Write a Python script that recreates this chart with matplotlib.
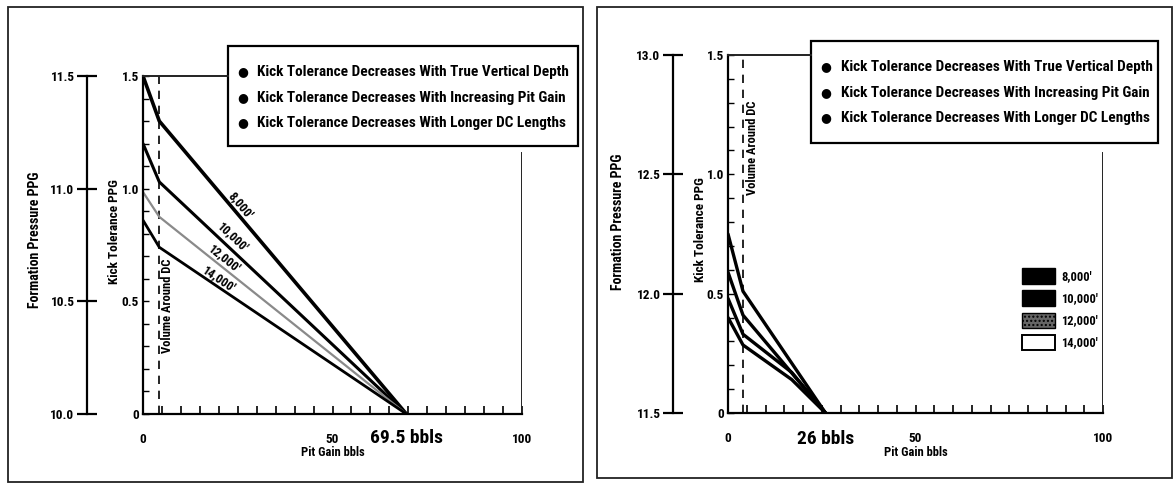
import numpy as np
import matplotlib
matplotlib.use("Agg")
import matplotlib.pyplot as plt
from matplotlib.patches import Rectangle, Patch
from matplotlib.lines import Line2D
from matplotlib.transforms import blended_transform_factory

plt.rcParams['font.family'] = ['Roboto Condensed', 'DejaVu Sans']
plt.rcParams['font.weight'] = 'bold'

# ---------------- data ----------------
depth_labels = ["8,000'", "10,000'", "12,000'", "14,000'"]
notes = ["Kick Tolerance Decreases With True Vertical Depth",
         "Kick Tolerance Decreases With Increasing Pit Gain",
         "Kick Tolerance Decreases With Longer DC Lengths"]

# left chart (max pit gain 69.5 bbls)
left_gain = [0, 4.3, 69.5]
left_kt = [[1.50, 1.30, 0.0],      # 8,000'
           [1.20, 1.03, 0.0],      # 10,000'
           [0.985, 0.875, 0.0],    # 12,000'
           [0.86, 0.74, 0.0]]      # 14,000'
left_dc = 4.3
left_max = 69.5
left_fp_ticks = [10.0, 10.5, 11.0, 11.5]

# right chart (max pit gain 26 bbls)
right_gain = [[0, 4, 26], [0, 4, 26], [0, 4, 17, 26], [0, 4, 17, 26]]
right_kt = [[0.75, 0.51, 0.0],
            [0.59, 0.41, 0.0],
            [0.48, 0.33, 0.17, 0.0],
            [0.40, 0.285, 0.14, 0.0]]
right_dc = 4.0
right_max = 26
right_fp_ticks = [11.5, 12.0, 12.5, 13.0]

kt_ticks = [0, 0.5, 1.0, 1.5]
kt_ticklabels = ["0", "0.5", "1.0", "1.5"]
gain_ticks = [0, 50, 100]

W, H = 1175, 484
fig = plt.figure(figsize=(W / 100, H / 100), dpi=100)


def fx(px):          # pixel -> figure fraction
    return px / W


def fy(py):
    return 1 - py / H


def panel(frame, ax_px, fp_x, fp_ticks, box, box_rows, bullet_x, text_x,
          right_top, gains, kts, styles, dc, gmax, vol_pos, fp_lab, kt_lab, xlab_y):
    # scanned page border
    fig.add_artist(Rectangle((fx(frame[0]), fy(frame[3])), (frame[2] - frame[0]) / W,
                             (frame[3] - frame[1]) / H, transform=fig.transFigure,
                             fill=False, lw=1.3, ec='#222'))
    x0, y0, x1, y1 = ax_px
    ax = fig.add_axes([fx(x0), fy(y1), (x1 - x0) / W, (y1 - y0) / H])
    ax.set_xlim(0, 100)
    ax.set_ylim(0, 1.5)
    ax.patch.set_visible(False)
    for s in ['top', 'right']:
        ax.spines[s].set_visible(False)
    for s in ['left', 'bottom']:
        ax.spines[s].set_linewidth(1.6)
    ax.set_xticks(gain_ticks)
    ax.set_xticks(np.arange(0, 101, 5), minor=True)
    ax.set_yticks(kt_ticks)
    ax.set_yticklabels(kt_ticklabels)
    ax.set_yticks(np.arange(0, 1.51, 0.1), minor=True)
    ax.tick_params(axis='x', which='both', direction='in', length=6, width=1.2,
                   labelsize=9.5, pad=14)
    ax.tick_params(axis='y', which='both', direction='in', length=4, width=1.0,
                   labelsize=9.5, pad=3)
    fig.text(fx((x0 + x1) / 2), fy(xlab_y), "Pit Gain bbls", fontsize=9,
             ha='center', va='center')
    fig.text(fx(kt_lab[0]), fy(kt_lab[1]), "Kick Tolerance PPG", fontsize=9.5,
             rotation=90, ha='center', va='center')
    fig.text(fx(fp_lab[0]), fy(fp_lab[1]), "Formation Pressure PPG", fontsize=10,
             rotation=90, ha='center', va='center')

    # frame right side below the note box
    ax.axvline(100, ymin=0, ymax=right_top, color='#222', lw=1.4)
    # dashed line: volume around drill collars
    ax.plot([dc, dc], [0, 1.5], color='black', lw=1.2, ls=(0, (5, 4)))
    ax.text(vol_pos[0], vol_pos[1], "Volume Around DC", rotation=90, fontsize=9,
            ha='center', va='center')

    for g, k, st in zip(gains, kts, styles):
        ax.plot(g, k, solid_capstyle='round', **st)

    trans = blended_transform_factory(ax.transData, ax.transAxes)
    ax.text(gmax, -0.072, f"{gmax:g} bbls", transform=trans, fontsize=14,
            ha='center', va='center')

    # formation pressure scale
    fax = fig.add_axes([fx(fp_x), fy(y1), 0.001, (y1 - y0) / H])
    fax.patch.set_visible(False)
    for s in ['top', 'right', 'bottom']:
        fax.spines[s].set_visible(False)
    fax.spines['left'].set_linewidth(1.6)
    fax.set_ylim(fp_ticks[0], fp_ticks[-1])
    fax.set_yticks(fp_ticks)
    fax.set_yticklabels([f"{t:.1f}" for t in fp_ticks])
    fax.set_xticks([])
    fax.tick_params(axis='y', direction='inout', length=14, width=1.6,
                    labelsize=9.5, pad=2)

    # note box with connecting line at the 1.5 level
    bx0, by0, bx1, by1 = box
    fig.add_artist(Line2D([fx(x0), fx(bx0)], [fy(y0), fy(y0)], color='#222', lw=1.4))
    fig.add_artist(Rectangle((fx(bx0), fy(by1)), (bx1 - bx0) / W, (by1 - by0) / H,
                             transform=fig.transFigure, fill=False, lw=1.6, ec='black'))
    for row, note in zip(box_rows, notes):
        fig.text(fx(bullet_x), fy(row), "\u25cf", fontsize=9, ha='center', va='center',
                 family='DejaVu Sans')
        fig.text(fx(text_x), fy(row), note, fontsize=11, ha='left', va='center')
    return ax


left_styles = [dict(color='black', lw=2.6), dict(color='black', lw=2.2),
               dict(color='#8a8a8a', lw=1.6), dict(color='black', lw=2.0)]
axL = panel(frame=(8, 7, 583, 482), ax_px=(143, 76, 522, 414), fp_x=87,
            fp_ticks=left_fp_ticks, box=(228, 46, 578, 146), box_rows=(72, 98, 123),
            bullet_x=243, text_x=257, right_top=(414 - 153) / 338,
            gains=[left_gain] * 4, kts=left_kt, styles=left_styles,
            dc=left_dc, gmax=left_max, vol_pos=(6.4, 0.48),
            fp_lab=(35, 240), kt_lab=(115, 232), xlab_y=453)

# depth labels along the left chart's lines
label_pos = [(25.8, 0.925), (23.6, 0.785), (21.2, 0.69), (19.9, 0.60)]
for (lx, ly), kt, name in zip(label_pos, left_kt, depth_labels):
    p0 = axL.transData.transform((left_gain[1], kt[1]))
    p1 = axL.transData.transform((left_gain[2], kt[2]))
    ang = np.degrees(np.arctan2(p1[1] - p0[1], p1[0] - p0[0]))
    axL.text(lx, ly, name, rotation=ang, rotation_mode='anchor', fontsize=9,
             ha='center', va='center')

right_styles = [dict(color='black', lw=2.4)] * 4
axR = panel(frame=(597, 7, 1172, 478), ax_px=(728, 55, 1103, 413), fp_x=673,
            fp_ticks=right_fp_ticks, box=(811, 41, 1158, 143), box_rows=(67, 93, 118),
            bullet_x=826, text_x=841, right_top=(413 - 153) / 358,
            gains=right_gain, kts=right_kt, styles=right_styles,
            dc=right_dc, gmax=right_max, vol_pos=(6.5, 1.11),
            fp_lab=(618, 222), kt_lab=(701, 230), xlab_y=452)

handles = [Patch(fc='black', ec='black'), Patch(fc='black', ec='black'),
           Patch(fc='#666666', ec='black', hatch='....'), Patch(fc='white', ec='black', lw=1.4)]
fig.legend(handles, depth_labels, loc='upper left', bbox_to_anchor=(fx(1016), fy(262)),
           frameon=False, fontsize=9, handlelength=2.6, handleheight=1.5,
           labelspacing=0.55, handletextpad=0.5, borderpad=0)

plt.savefig("out.png", dpi=100)
